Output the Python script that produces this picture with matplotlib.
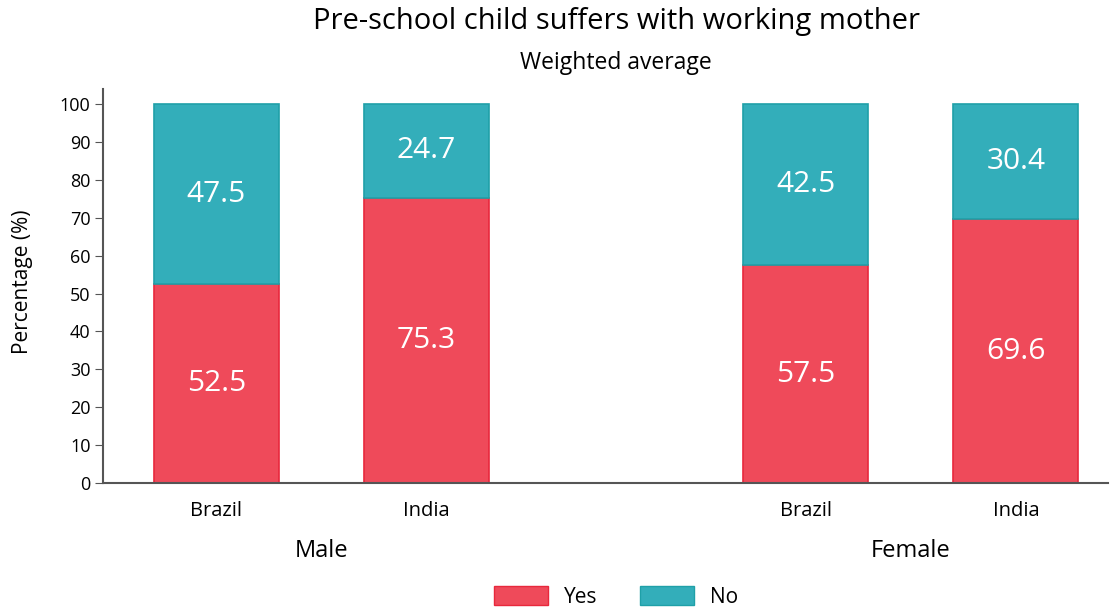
import matplotlib.pyplot as plt
from matplotlib.patches import Patch

plt.rcParams['font.family'] = ['Open Sans', 'DejaVu Sans']

groups = ['Male', 'Female']
countries = ['Brazil', 'India', 'Brazil', 'India']
yes_vals = [52.5, 75.3, 57.5, 69.6]
no_vals = [47.5, 24.7, 42.5, 30.4]

red = '#EF4A5A'
red_edge = '#E8283C'
teal = '#33AEBA'
teal_edge = '#1FA0A8'

x = [0, 1, 2.805, 3.805]
width = 0.595

fig = plt.figure(figsize=(11.17, 6.08), dpi=100)
ax = fig.add_axes([0.0922, 0.2056, 0.9, 0.648])

ax.bar(x, yes_vals, width, color=red, edgecolor=red_edge, linewidth=1.2)
ax.bar(x, no_vals, width, bottom=yes_vals, color=teal, edgecolor=teal_edge, linewidth=1.2)

for xi, y, n in zip(x, yes_vals, no_vals):
    ax.text(xi, y / 2, f'{y:.1f}', ha='center', va='center', color='white', fontsize=21.5)
    ax.text(xi, y + n / 2, f'{n:.1f}', ha='center', va='center', color='white', fontsize=21.5)

ax.set_xlim(-0.54, 4.245)
ax.set_ylim(0, 104)
ax.set_yticks(range(0, 101, 10))
ax.set_xticks(x)
ax.set_xticklabels(countries)
ax.tick_params(axis='y', length=6, color='#555555', labelsize=13, pad=3)
ax.tick_params(axis='x', length=0, pad=13, labelsize=14.5)
for s in ['top', 'right']:
    ax.spines[s].set_visible(False)
ax.spines['left'].set_color('#555555')
ax.spines['bottom'].set_color('#555555')
ax.spines['left'].set_linewidth(1.5)
ax.spines['bottom'].set_linewidth(1.5)
ax.set_ylabel('Percentage (%)', fontsize=15)
ax.yaxis.set_label_coords(-0.07, 0.51)

ax.text((x[0] + x[1]) / 2, -18, groups[0], ha='center', va='center', fontsize=17)
ax.text((x[2] + x[3]) / 2, -18, groups[1], ha='center', va='center', fontsize=17)

fig.text(0.5515, 0.965, 'Pre-school child suffers with working mother', ha='center', va='center', fontsize=21)
fig.text(0.5515, 0.897, 'Weighted average', ha='center', va='center', fontsize=16.5)

handles = [Patch(facecolor=red, edgecolor=red_edge, label='Yes'),
           Patch(facecolor=teal, edgecolor=teal_edge, label='No')]
fig.legend(handles=handles, loc='center', bbox_to_anchor=(0.5515, 0.018), ncol=2,
           frameon=False, fontsize=15, handlelength=2.6, handleheight=1.05,
           columnspacing=2.0, handletextpad=0.8)

fig.savefig('out.png', dpi=100)
